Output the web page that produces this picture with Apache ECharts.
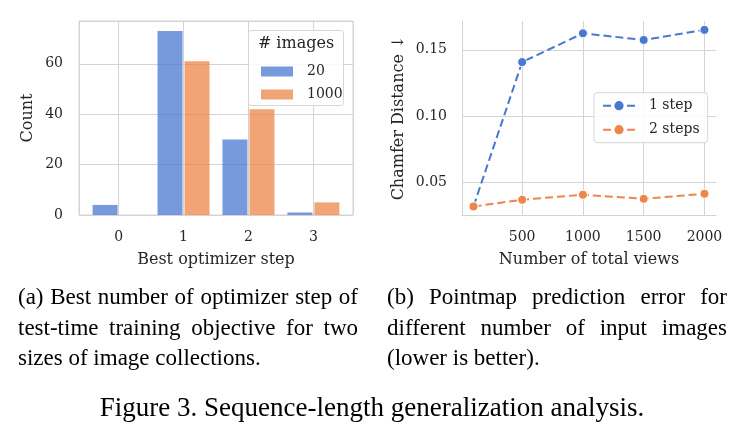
<!DOCTYPE html>
<html>
<head>
<meta charset="utf-8">
<script src="https://cdn.jsdelivr.net/npm/echarts@6/dist/echarts.min.js"></script>
<style>
  html, body { margin: 0; padding: 0; background: #fff; }
  #chart { width: 744px; height: 438px; }
</style>
</head>
<body>
<div id="chart"></div>
<script>
// (a) best optimizer step, counts per image collection size
const steps = [0, 1, 2, 3];
const count20 = [4, 73, 30, 1];
const count1000 = [0, 61, 42, 5];

// (b) chamfer distance vs number of total views
const views = [100, 500, 1000, 1500, 2000];
const oneStep = [0.032, 0.1407, 0.1624, 0.1574, 0.165];
const twoSteps = [0.0318, 0.0369, 0.0407, 0.0376, 0.0414];

const captionA = [
  "(a) Best number of optimizer step of",
  "test-time training objective for two",
  "sizes of image collections."
];
const captionB = [
  "(b) Pointmap prediction error for",
  "different number of input images",
  "(lower is better)."
];
const figCaption = "Figure 3. Sequence-length generalization analysis.";

const BLUE = "#4878d0";
const ORANGE = "#ee854a";
const GRID = "#d4d4d4";
const TXT = "#262626";
const SERIF = "DejaVu Serif";
const TIMES = "Liberation Serif";

// justified caption lines, one text per word so the spacing can stretch
const measureCtx = document.createElement("canvas").getContext("2d");
function captionLines(lines, x, y0, width, lineGap, size) {
  measureCtx.font = size + 'px "' + TIMES + '"';
  const out = [];
  lines.forEach((line, i) => {
    const y = y0 + i * lineGap;
    const style = { fontFamily: TIMES, fontSize: size, fill: "#000", align: "left", verticalAlign: "middle" };
    if (i === lines.length - 1) {
      out.push({ type: "text", x: x, y: y, style: Object.assign({ text: line }, style) });
      return;
    }
    const words = line.split(" ");
    const widths = words.map((w) => measureCtx.measureText(w).width);
    const gap = (width - widths.reduce((a, b) => a + b, 0)) / (words.length - 1);
    let cx = x;
    words.forEach((w, j) => {
      out.push({ type: "text", x: cx, y: y, style: Object.assign({ text: w }, style) });
      cx += widths[j] + gap;
    });
  });
  return out;
}

const tickLabel = { fontFamily: SERIF, fontSize: 14, color: TXT };
const axisName = { fontFamily: SERIF, fontSize: 16, color: TXT };

const chart = echarts.init(document.getElementById("chart"), null, { renderer: "canvas" });

chart.setOption({
  animation: false,
  backgroundColor: "#fff",
  grid: [
    { left: 79, top: 21, width: 274, height: 194, show: true, borderColor: GRID, borderWidth: 1, backgroundColor: "transparent" },
    { left: 462, top: 21, width: 254, height: 194 }
  ],
  xAxis: [
    {
      gridIndex: 0, type: "value", min: -0.61, max: 3.61, splitNumber: 4,
      axisLine: { show: false }, axisTick: { show: false },
      axisLabel: Object.assign({ margin: 15, showMinLabel: false, showMaxLabel: false }, tickLabel),
      splitLine: { show: true, lineStyle: { color: GRID, width: 1 } },
      name: "Best optimizer step", nameLocation: "middle", nameGap: 37, nameTextStyle: axisName
    },
    {
      gridIndex: 1, type: "value", min: 5, max: 2095,
      axisLine: { show: true, lineStyle: { color: GRID, width: 1 } }, axisTick: { show: false },
      axisLabel: Object.assign({
        margin: 15, showMinLabel: false, showMaxLabel: false,
        formatter: (v) => String(v)
      }, tickLabel),
      splitLine: { show: true, showMaxLine: false, lineStyle: { color: GRID, width: 1 } },
      name: "Number of total views", nameLocation: "middle", nameGap: 37, nameTextStyle: axisName
    }
  ],
  yAxis: [
    {
      gridIndex: 0, type: "value", min: 0, max: 77, splitNumber: 4,
      axisLine: { show: false }, axisTick: { show: false },
      axisLabel: Object.assign({ margin: 16, showMaxLabel: false }, tickLabel),
      splitLine: { show: true, lineStyle: { color: GRID, width: 1 } },
      name: "Count", nameLocation: "middle", nameRotate: 90, nameGap: 43, nameTextStyle: axisName
    },
    {
      gridIndex: 1, type: "value", min: 0.0254, max: 0.1717, splitNumber: 3,
      axisLine: { show: true, lineStyle: { color: GRID, width: 1 } }, axisTick: { show: false },
      axisLabel: Object.assign({
        margin: 15, showMinLabel: false, showMaxLabel: false,
        formatter: (v) => v.toFixed(2)
      }, tickLabel),
      splitLine: { show: true, showMaxLine: false, lineStyle: { color: GRID, width: 1 } },
      name: "Chamfer Distance ↓", nameLocation: "middle", nameRotate: 90, nameGap: 55, nameTextStyle: axisName
    }
  ],
  legend: [
    {
      data: ["20", "1000"], orient: "vertical", left: 256, top: 58.5,
      itemWidth: 32, itemHeight: 10, itemGap: 7, icon: "rect",
      itemStyle: { borderWidth: 0 },
      textStyle: Object.assign({ lineHeight: 16, padding: [0, 0, 0, 9] }, tickLabel)
    },
    {
      data: ["1 step", "2 steps"], orient: "vertical", left: 594, top: 92.7,
      padding: [4, 8, 4, 8], itemWidth: 32, itemHeight: 14, itemGap: 6,
      backgroundColor: "rgba(255,255,255,0.85)", borderColor: "#d6d6d6", borderWidth: 1, borderRadius: 3,
      textStyle: Object.assign({ lineHeight: 18, padding: [0, 0, 0, 9] }, tickLabel)
    }
  ],
  series: [
    {
      name: "20", type: "bar", xAxisIndex: 0, yAxisIndex: 0,
      data: steps.map((s, i) => [s, count20[i]]),
      barWidth: 25, barGap: "8%",
      itemStyle: { color: "rgba(72,120,208,0.75)", borderWidth: 0 }
    },
    {
      name: "1000", type: "bar", xAxisIndex: 0, yAxisIndex: 0,
      data: steps.map((s, i) => [s, count1000[i]]),
      barWidth: 25, barGap: "8%",
      itemStyle: { color: "rgba(238,133,74,0.75)", borderWidth: 0 }
    },
    {
      name: "1 step", type: "line", xAxisIndex: 1, yAxisIndex: 1,
      data: views.map((v, i) => [v, oneStep[i]]),
      symbol: "circle", symbolSize: 9, color: BLUE,
      lineStyle: { width: 2, type: [8, 4] },
      itemStyle: { color: BLUE, borderColor: "#fff", borderWidth: 1 }
    },
    {
      name: "2 steps", type: "line", xAxisIndex: 1, yAxisIndex: 1,
      data: views.map((v, i) => [v, twoSteps[i]]),
      symbol: "circle", symbolSize: 9, color: ORANGE,
      lineStyle: { width: 2, type: [8, 4] },
      itemStyle: { color: ORANGE, borderColor: "#fff", borderWidth: 1 }
    }
  ],
  graphic: [
    {
      type: "rect", z: 3, shape: { x: 248.5, y: 30.5, width: 95, height: 75, r: 3 },
      style: { fill: "rgba(255,255,255,0.85)", stroke: "#d6d6d6", lineWidth: 1 }
    },
    {
      type: "text", z: 5, x: 296, y: 44,
      style: { text: "# images", fontFamily: SERIF, fontSize: 16, fill: TXT, align: "center", verticalAlign: "middle" }
    }
  ]
    .concat(captionLines(captionA, 18, 298, 340, 30.5, 23))
    .concat(captionLines(captionB, 387, 298, 340, 30.5, 23))
    .concat([{
      type: "text", x: 372, y: 409,
      style: { text: figCaption, fontFamily: TIMES, fontSize: 27, fill: "#000", align: "center", verticalAlign: "middle" }
    }])
});
</script>
</body>
</html>
